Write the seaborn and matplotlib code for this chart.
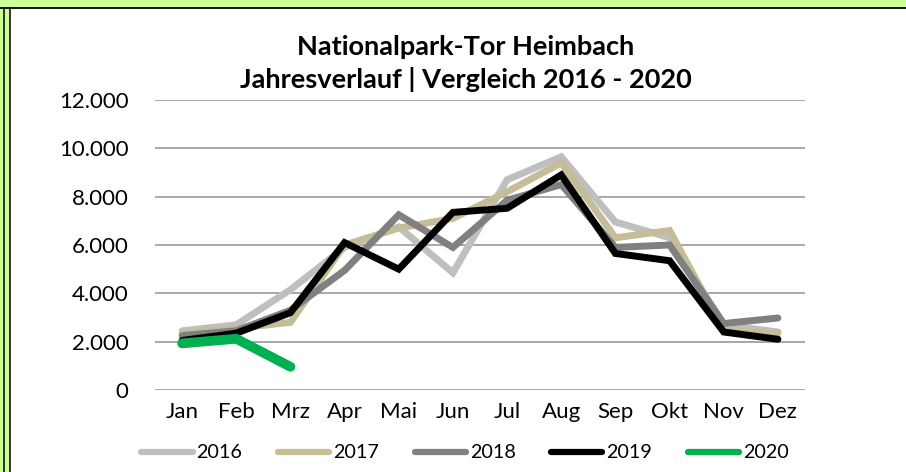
import matplotlib
matplotlib.use("Agg")
import matplotlib.pyplot as plt
from matplotlib.lines import Line2D
from matplotlib.patches import Rectangle
from matplotlib.ticker import FuncFormatter
import seaborn as sns
import pandas as pd

months = ["Jan", "Feb", "Mrz", "Apr", "Mai", "Jun", "Jul", "Aug", "Sep", "Okt", "Nov", "Dez"]
v2016 = [2450, 2700, 4150, 5900, 6750, 4850, 8700, 9650, 6950, 6300, 2700, 2400]
v2017 = [2350, 2550, 2800, 6000, 6700, 7100, 8200, 9400, 6300, 6600, 2450, 2350]
v2018 = [2250, 2450, 3300, 4950, 7250, 5900, 7850, 8500, 5900, 6000, 2750, 2980]
v2019 = [2050, 2350, 3200, 6100, 5000, 7350, 7520, 8900, 5650, 5350, 2400, 2100]
v2020 = [1930, 2120, 960]

years = ["2016", "2017", "2018", "2019", "2020"]
series = [v2016, v2017, v2018, v2019, v2020]
colors = ["#BFBFBF", "#C4BD97", "#808080", "#000000", "#00B050"]
widths = [5, 5, 5, 5, 7]

sns.set_theme(style="white")
plt.rcParams["font.family"] = ["Lato", "DejaVu Sans"]
plt.rcParams["text.color"] = "black"

W, H = 906, 472
fig = plt.figure(figsize=(W / 100, H / 100), dpi=100)
fig.patch.set_facecolor("#CCFF99")

# frame like the Excel chart border (only left and top edges are inside the picture)
fig.patches.append(Rectangle((9.5 / W, 0), 1, 1 - 8.5 / H, transform=fig.transFigure,
                             facecolor="white", edgecolor="none", zorder=-9))
for x0 in (3.5, 9.5):
    fig.lines.append(Line2D([x0 / W, x0 / W], [0, 1 - 7.5 / H], transform=fig.transFigure,
                            color="black", lw=1.1, zorder=-8))
fig.lines.append(Line2D([0, 1], [1 - 7.5 / H, 1 - 7.5 / H], transform=fig.transFigure,
                        color="black", lw=1.3, zorder=-8))

ax = fig.add_axes([155 / W, 1 - 390 / H, 650 / W, 290 / H])
ax.set_facecolor("none")

for yr, vals, c, lw in zip(years, series, colors, widths):
    df = pd.DataFrame({"Monat": months[:len(vals)], "Besucher": vals})
    sns.lineplot(data=df, x="Monat", y="Besucher", sort=False, ax=ax, color=c, lw=lw,
                 solid_capstyle="round", solid_joinstyle="miter")

ax.set_xlim(-0.5, 11.5)
ax.set_ylim(0, 12000)
ax.set_yticks(range(0, 12001, 2000))
ax.yaxis.set_major_formatter(FuncFormatter(lambda v, p: f"{int(v):,}".replace(",", ".")))
ax.grid(axis="y", color="#A0A0A0", lw=1.3)
ax.grid(axis="x", visible=False)
ax.set_axisbelow(True)
for s in ax.spines.values():
    s.set_visible(False)
ax.set_xlabel("")
ax.set_ylabel("")
ax.tick_params(axis="y", length=0, pad=19, labelsize=16, labelcolor="black")
ax.tick_params(axis="x", length=0, pad=9, labelsize=16, labelcolor="black")

fig.text(466 / W, 1 - 47 / H, "Nationalpark-Tor Heimbach", ha="center", va="center",
         fontsize=19.5, fontweight="bold", color="black")
fig.text(466 / W, 1 - 80 / H, "Jahresverlauf | Vergleich 2016 - 2020", ha="center", va="center",
         fontsize=19.5, fontweight="bold", color="black")

handles = [Line2D([], [], color=c, lw=4.5, solid_capstyle="round") for c in colors]
fig.legend(handles, years, loc="center", bbox_to_anchor=(465 / W, 1 - 453 / H), ncol=5,
           frameon=False, fontsize=14.2, handlelength=2.6, handletextpad=0.2,
           columnspacing=1.8, labelcolor="black")

fig.savefig("out.png", dpi=100, facecolor=fig.get_facecolor())
